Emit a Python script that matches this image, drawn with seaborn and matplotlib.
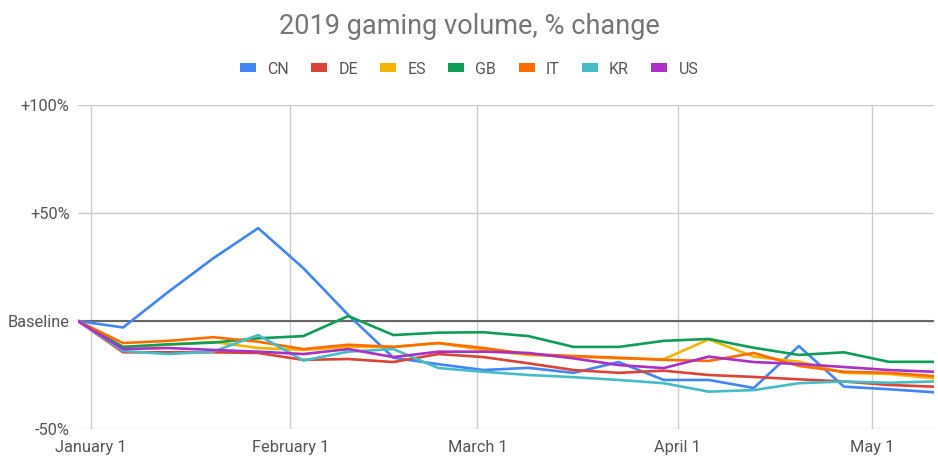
import pandas as pd
import matplotlib.pyplot as plt
from matplotlib.patches import Patch
import seaborn as sns

# Weekly points, % change vs. baseline week
dates = pd.date_range("2018-12-30", periods=20, freq="7D")
countries = ["CN", "DE", "ES", "GB", "IT", "KR", "US"]

cn = [0, -3, 13.4, 29, 43, 24.5, 2.8, -17, -20, -22.7, -21.7, -24, -19, -27.3, -27.3, -31, -11.6, -30.4, -31.6, -33]
de = [0, -14.5, -14.5, -14.5, -14.8, -18, -17.6, -19, -15.3, -16.7, -19.6, -22.7, -24, -23, -25, -25.9, -27, -28, -29.6, -30.4]
es = [0, -12, -11, -9.7, -12.5, -13.4, -12, -12, -10.2, -13.4, -15.7, -16.5, -17.3, -17.7, -8.5, -16.5, -18.8, -24, -24.5, -26.5]
gb = [0, -12, -10.8, -10, -8, -7, 2.3, -6.5, -5.4, -5.2, -7, -12, -12, -9.2, -8.3, -12.4, -15.7, -14.5, -18.9, -18.9]
it = [0, -10.2, -9.2, -7.5, -9.6, -13, -11, -12, -10.2, -12.5, -15.3, -16.2, -17, -18, -18.5, -14.8, -20.8, -23.5, -24, -25.5]
kr = [0, -13.9, -15.3, -14.2, -6.5, -18.3, -14.2, -13, -21.8, -23.5, -25, -26, -27.3, -28.8, -32.7, -32, -28.8, -28, -28.6, -28]
us = [0, -13, -12.5, -13.4, -14.2, -15.3, -13, -16.7, -14.2, -14.2, -14.8, -17.3, -20.4, -21.8, -16.5, -19, -19.9, -21.3, -22.7, -23.5]

colors = ["#4285F4", "#DB4437", "#F4B400", "#0F9D58", "#FF6D00", "#46BDC6", "#AB30C4"]

# month labels (placed where the original chart put its gridlines)
month_ticks = pd.to_datetime(["2019-01-01 00:00", "2019-02-01 00:00", "2019-03-02 01:40",
                              "2019-04-02 04:20", "2019-05-02 08:40"])
month_labels = ["January 1", "February 1", "March 1", "April 1", "May 1"]
y_ticks = [-50, 0, 50, 100]
y_labels = ["-50%", "Baseline", "+50%", "+100%"]

# long-form table for seaborn
series = [cn, de, es, gb, it, kr, us]
df = pd.concat(
    [pd.DataFrame({"date": dates, "change": vals, "country": c}) for c, vals in zip(countries, series)],
    ignore_index=True,
)

sns.set_style("white")
plt.rcParams["font.family"] = ["Roboto", "DejaVu Sans"]

fig = plt.figure(figsize=(9.38, 4.57), dpi=100)
ax = fig.add_axes([78 / 938, 1 - 429 / 457, (934 - 78) / 938, (429 - 105) / 457])

sns.lineplot(data=df, x="date", y="change", hue="country", hue_order=countries,
             palette=colors, linewidth=1.9, legend=False, ax=ax)

ax.set_xlim(pd.Timestamp("2018-12-30"), pd.Timestamp("2019-05-12"))
ax.set_ylim(-50, 100)

# gridlines
ax.set_yticks(y_ticks)
ax.set_yticklabels(y_labels)
ax.set_xticks(month_ticks)
ax.set_xticklabels(month_labels)
ax.grid(True, color="#cccccc", linewidth=1)
ax.axhline(0, color="#666666", linewidth=1.5, zorder=1)
for s in ax.spines.values():
    s.set_visible(False)
ax.tick_params(length=0, labelsize=11.8, labelcolor="#555555")
ax.tick_params(axis="y", pad=6)
ax.tick_params(axis="x", pad=8)
ax.set_xlabel("")
ax.set_ylabel("")

fig.text(0.5, 1 - 26 / 457, "2019 gaming volume, % change", ha="center", va="center",
         fontsize=19.5, color="#757575")

handles = [Patch(facecolor=c, edgecolor="none") for c in colors]
fig.legend(handles, countries, loc="center", bbox_to_anchor=(0.5, 1 - 69 / 457), ncol=7,
           frameon=False, fontsize=11.5, labelcolor="#555555", handlelength=1.0,
           handleheight=0.5, handletextpad=0.7, columnspacing=1.4)

fig.savefig("out.png", dpi=100)
